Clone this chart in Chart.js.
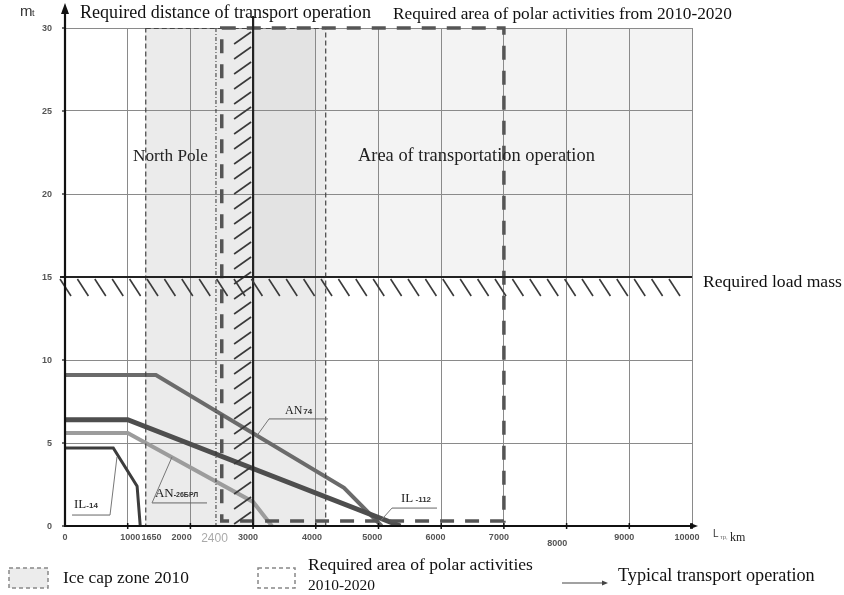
<!DOCTYPE html>
<html>
<head>
<meta charset="utf-8">
<script src="https://cdn.jsdelivr.net/npm/chart.js@4/dist/chart.umd.min.js"></script>
<style>
html,body{margin:0;padding:0;background:#fff;}
canvas{display:block;}
</style>
</head>
<body>
<canvas id="c" width="844" height="595"></canvas>
<script>
// ---------- DATA ----------
// positions (in km) where each x tick label sits in the picture
const xTickValues = [0, 1040, 1380, 1860, 2385, 2920, 3940, 4900, 5910, 6920, 7850, 8920, 9920];
const xTickLabels = ['0', '1000', '1650', '2000', '2400', '3000', '4000', '5000', '6000', '7000', '8000', '9000', '10000'];
const yTickValues = [0, 5, 10, 15, 20, 25, 30];
const yTickLabels = ['0', '5', '10', '15', '20', '25', '30'];

const il14X = [0, 770, 1150, 1200];
const il14Y = [4.7, 4.7, 2.4, 0];
const an26X = [0, 1000, 3000, 3300];
const an26Y = [5.6, 5.6, 1.45, 0];
const il112X = [0, 1000, 5350];
const il112Y = [6.4, 6.4, 0];
const an74X = [0, 1450, 4450, 5050];
const an74Y = [9.1, 9.1, 2.3, 0];

const iceCapZone = [1280, 4150];          // x range, full height
const transportArea = [4150, 10000, 15, 30];
const darkBand = [3000, 4000, 15, 30];
const polarArea = [2500, 7000, 0.3, 30];  // heavy dashed rectangle
const northPoleX = 2400;
const requiredDistance = 3000;
const requiredLoad = 15;

function pts(xs, ys) { return xs.map((x, i) => ({x: x, y: ys[i]})); }

// ---------- HELPERS ----------
function fitText(ctx, text, x, y, width, family, color, weight) {
  ctx.save();
  ctx.font = (weight || '') + ' 100px ' + family;
  const w = ctx.measureText(text).width;
  const size = 100 * width / w;
  ctx.font = (weight || '') + ' ' + size.toFixed(2) + 'px ' + family;
  ctx.fillStyle = color || '#111';
  ctx.textAlign = 'left';
  ctx.textBaseline = 'middle';
  ctx.fillText(text, x, y);
  ctx.restore();
}
function txt(ctx, text, x, y, font, color, align) {
  ctx.save();
  ctx.font = font;
  ctx.fillStyle = color;
  ctx.textAlign = align || 'left';
  ctx.textBaseline = 'middle';
  ctx.fillText(text, x, y);
  const w = ctx.measureText(text).width;
  ctx.restore();
  return w;
}
function line(ctx, x1, y1, x2, y2, color, w, dash) {
  ctx.save();
  ctx.strokeStyle = color; ctx.lineWidth = w;
  ctx.setLineDash(dash || []);
  ctx.beginPath(); ctx.moveTo(x1, y1); ctx.lineTo(x2, y2); ctx.stroke();
  ctx.restore();
}

const SERIF = '"Liberation Serif", "Times New Roman", serif';
const SANS = '"Liberation Sans", Arial, sans-serif';

const bgPlugin = {
  id: 'bg',
  beforeDraw(chart) {
    const ctx = chart.ctx, xs = chart.scales.x, ys = chart.scales.y;
    const X = v => xs.getPixelForValue(v), Y = v => ys.getPixelForValue(v);
    ctx.save();
    ctx.fillStyle = '#fff';
    ctx.fillRect(0, 0, chart.width, chart.height);
    ctx.fillStyle = '#f3f3f3';
    ctx.fillRect(X(transportArea[0]), Y(transportArea[3]), X(transportArea[1]) - X(transportArea[0]), Y(transportArea[2]) - Y(transportArea[3]));
    ctx.fillStyle = '#ebebeb';
    ctx.fillRect(X(iceCapZone[0]), Y(30), X(iceCapZone[1]) - X(iceCapZone[0]), Y(0) - Y(30));
    ctx.fillStyle = '#e3e3e3';
    ctx.fillRect(X(darkBand[0]), Y(darkBand[3]), X(darkBand[1]) - X(darkBand[0]), Y(darkBand[2]) - Y(darkBand[3]));
    ctx.restore();
  },
  afterDatasetsDraw(chart) {
    const ctx = chart.ctx, xs = chart.scales.x, ys = chart.scales.y;
    const X = v => xs.getPixelForValue(v), Y = v => ys.getPixelForValue(v);
    const top = Y(30), bot = Y(0), left = X(0), right = X(10000);

    ctx.save();
    ctx.strokeStyle = '#444'; ctx.lineWidth = 1.2; ctx.setLineDash([5, 3]);
    ctx.strokeRect(X(iceCapZone[0]) + 0.5, top + 0.5, X(iceCapZone[1]) - X(iceCapZone[0]), bot - top);
    ctx.restore();
    line(ctx, X(northPoleX) + 0.5, top, X(northPoleX) + 0.5, bot, '#333', 1, [4, 2, 1, 2]);

    ctx.save();
    ctx.strokeStyle = '#555'; ctx.lineWidth = 3.5; ctx.setLineDash([14, 11]);
    ctx.strokeRect(X(polarArea[0]), Y(polarArea[3]), X(polarArea[1]) - X(polarArea[0]), Y(polarArea[2]) - Y(polarArea[3]));
    ctx.restore();

    const xd = X(requiredDistance);
    line(ctx, xd, top - 12, xd, bot, '#222', 2.2);
    for (let y = top + 4; y < bot - 8; y += 15) {
      line(ctx, xd - 19, y + 12, xd - 2, y, '#3a3a3a', 1.6);
    }
    const yl = Y(requiredLoad);
    line(ctx, left - 5, yl, right, yl, '#222', 2.2);
    for (let x = left - 5; x < right - 10; x += 17.4) {
      line(ctx, x, yl + 2, x + 11, yl + 19, '#3a3a3a', 1.6);
    }

    // axes
    line(ctx, left, bot + 1, left, 9, '#111', 2.2);
    ctx.save(); ctx.fillStyle = '#111';
    ctx.beginPath(); ctx.moveTo(left, 3); ctx.lineTo(left - 4, 14); ctx.lineTo(left + 4, 14); ctx.closePath(); ctx.fill();
    ctx.restore();
    line(ctx, left, bot, right + 3, bot, '#111', 2);
    ctx.save(); ctx.fillStyle = '#111';
    ctx.beginPath(); ctx.moveTo(right + 6, bot); ctx.lineTo(right - 2, bot - 3); ctx.lineTo(right - 2, bot + 3); ctx.closePath(); ctx.fill();
    ctx.restore();
    for (let v = 1000; v <= 10000; v += 1000) line(ctx, X(v), bot - 3, X(v), bot + 3, '#111', 1.5);
    yTickValues.forEach(v => line(ctx, left - 3, Y(v), left, Y(v), '#111', 1.2));

    xTickLabels.forEach((t, i) => {
      const px = X(xTickValues[i]);
      if (t === '2400') txt(ctx, t, px, bot + 13, '12px ' + SANS, '#aaa', 'center');
      else if (t === '8000') txt(ctx, t, px, bot + 18, 'bold 9px ' + SANS, '#555', 'center');
      else txt(ctx, t, px, bot + 12, 'bold 9px ' + SANS, '#555', 'center');
    });
    yTickLabels.forEach((t, i) => txt(ctx, t, left - 13, Y(yTickValues[i]) + 1, 'bold 9px ' + SANS, '#555', 'right'));

    const leaders = [
      {u: [112, 718, 0.66], p: [829, 4.16], from: 1},
      {u: [1388, 2265, 1.39], p: [1707, 4.16], from: 0},
      {u: [3254, 4195, 6.45], p: [3046, 5.36], from: 0},
      {u: [5215, 5933, 1.08], p: [5030, 0.3], from: 0}
    ];
    leaders.forEach(l => {
      const y = Y(l.u[2]);
      line(ctx, X(l.u[0]), y, X(l.u[1]), y, '#666', 1);
      line(ctx, X(l.u[l.from]), y, X(l.p[0]), Y(l.p[1]), '#777', 1);
    });
    function mixed(xv, yv, a, b, sa, sb, bw) {
      const px = X(xv), py = Y(yv);
      const w = txt(ctx, a, px, py, sa + 'px ' + SERIF, '#222');
      txt(ctx, b, px + w + (bw || 0), py + 1, 'bold ' + sb + 'px ' + SANS, '#333');
    }
    mixed(144, 1.3, 'IL', '-14', 13, 8);
    mixed(1435, 1.95, 'AN', '-26БРЛ', 13, 7);
    mixed(3509, 6.93, 'AN', '74', 12, 8, 1);
    mixed(5359, 1.63, 'IL', ' -112', 13, 8);
  },
  afterDraw(chart) {
    const ctx = chart.ctx;
    txt(ctx, 'm', 20, 12, '15px ' + SANS, '#333');
    txt(ctx, 't', 32, 14, '9px ' + SANS, '#333');
    txt(ctx, 'L', 713, 534, '10px ' + SANS, '#333');
    txt(ctx, 'тр,', 720, 537, '6px ' + SANS, '#666');
    txt(ctx, 'km', 730, 538, '12px ' + SERIF, '#222');

    fitText(ctx, 'Required distance of transport operation', 80, 13, 291, SERIF, '#111');
    fitText(ctx, 'Required area of polar activities from 2010-2020', 393, 14, 339, SERIF, '#111');
    fitText(ctx, 'North Pole', 133, 156, 75, SERIF, '#222');
    fitText(ctx, 'Area of transportation operation', 358, 156, 237, SERIF, '#222');
    fitText(ctx, 'Required load mass', 703, 282, 139, SERIF, '#111');

    ctx.save();
    ctx.fillStyle = '#ececec';
    ctx.fillRect(9, 568, 39, 20);
    ctx.strokeStyle = '#888'; ctx.lineWidth = 1.5; ctx.setLineDash([4, 3]);
    ctx.strokeRect(9, 568, 39, 20);
    ctx.strokeRect(258, 568, 37, 20);
    ctx.restore();
    fitText(ctx, 'Ice cap zone 2010', 63, 578, 126, SERIF, '#111');
    fitText(ctx, 'Required area of polar activities', 308, 565, 225, SERIF, '#111');
    fitText(ctx, '2010-2020', 308, 586, 67, SERIF, '#111');
    line(ctx, 562, 583, 604, 583, '#444', 1.2);
    ctx.save(); ctx.fillStyle = '#444';
    ctx.beginPath(); ctx.moveTo(608, 583); ctx.lineTo(602, 580.5); ctx.lineTo(602, 585.5); ctx.closePath(); ctx.fill();
    ctx.restore();
    fitText(ctx, 'Typical transport operation', 618, 576, 197, SERIF, '#111');
  }
};

const ds = (label, xs, ys, color, w) => ({
  label: label, data: pts(xs, ys), borderColor: color, borderWidth: w,
  pointRadius: 0, fill: false, tension: 0, borderJoinStyle: 'miter', borderCapStyle: 'butt'
});

new Chart(document.getElementById('c'), {
  type: 'line',
  data: {
    datasets: [
      ds('IL-14', il14X, il14Y, '#3d3d3d', 3),
      ds('AN-26БРЛ', an26X, an26Y, '#9c9c9c', 4),
      ds('IL-112', il112X, il112Y, '#4e4e4e', 5),
      ds('AN-74', an74X, an74Y, '#6b6b6b', 4)
    ]
  },
  options: {
    responsive: false,
    animation: false,
    devicePixelRatio: 1,
    layout: {padding: {left: 65, right: 152, top: 28, bottom: 69}},
    plugins: {legend: {display: false}, tooltip: {enabled: false}},
    scales: {
      x: {
        type: 'linear', min: 0, max: 10000,
        ticks: {display: false, stepSize: 1000},
        grid: {color: '#8a8a8a', lineWidth: 1, drawTicks: false},
        border: {display: false}
      },
      y: {
        type: 'linear', min: 0, max: 30,
        ticks: {display: false, stepSize: 5},
        grid: {color: '#8a8a8a', lineWidth: 1, drawTicks: false},
        border: {display: false}
      }
    }
  },
  plugins: [bgPlugin]
});
</script>
</body>
</html>
